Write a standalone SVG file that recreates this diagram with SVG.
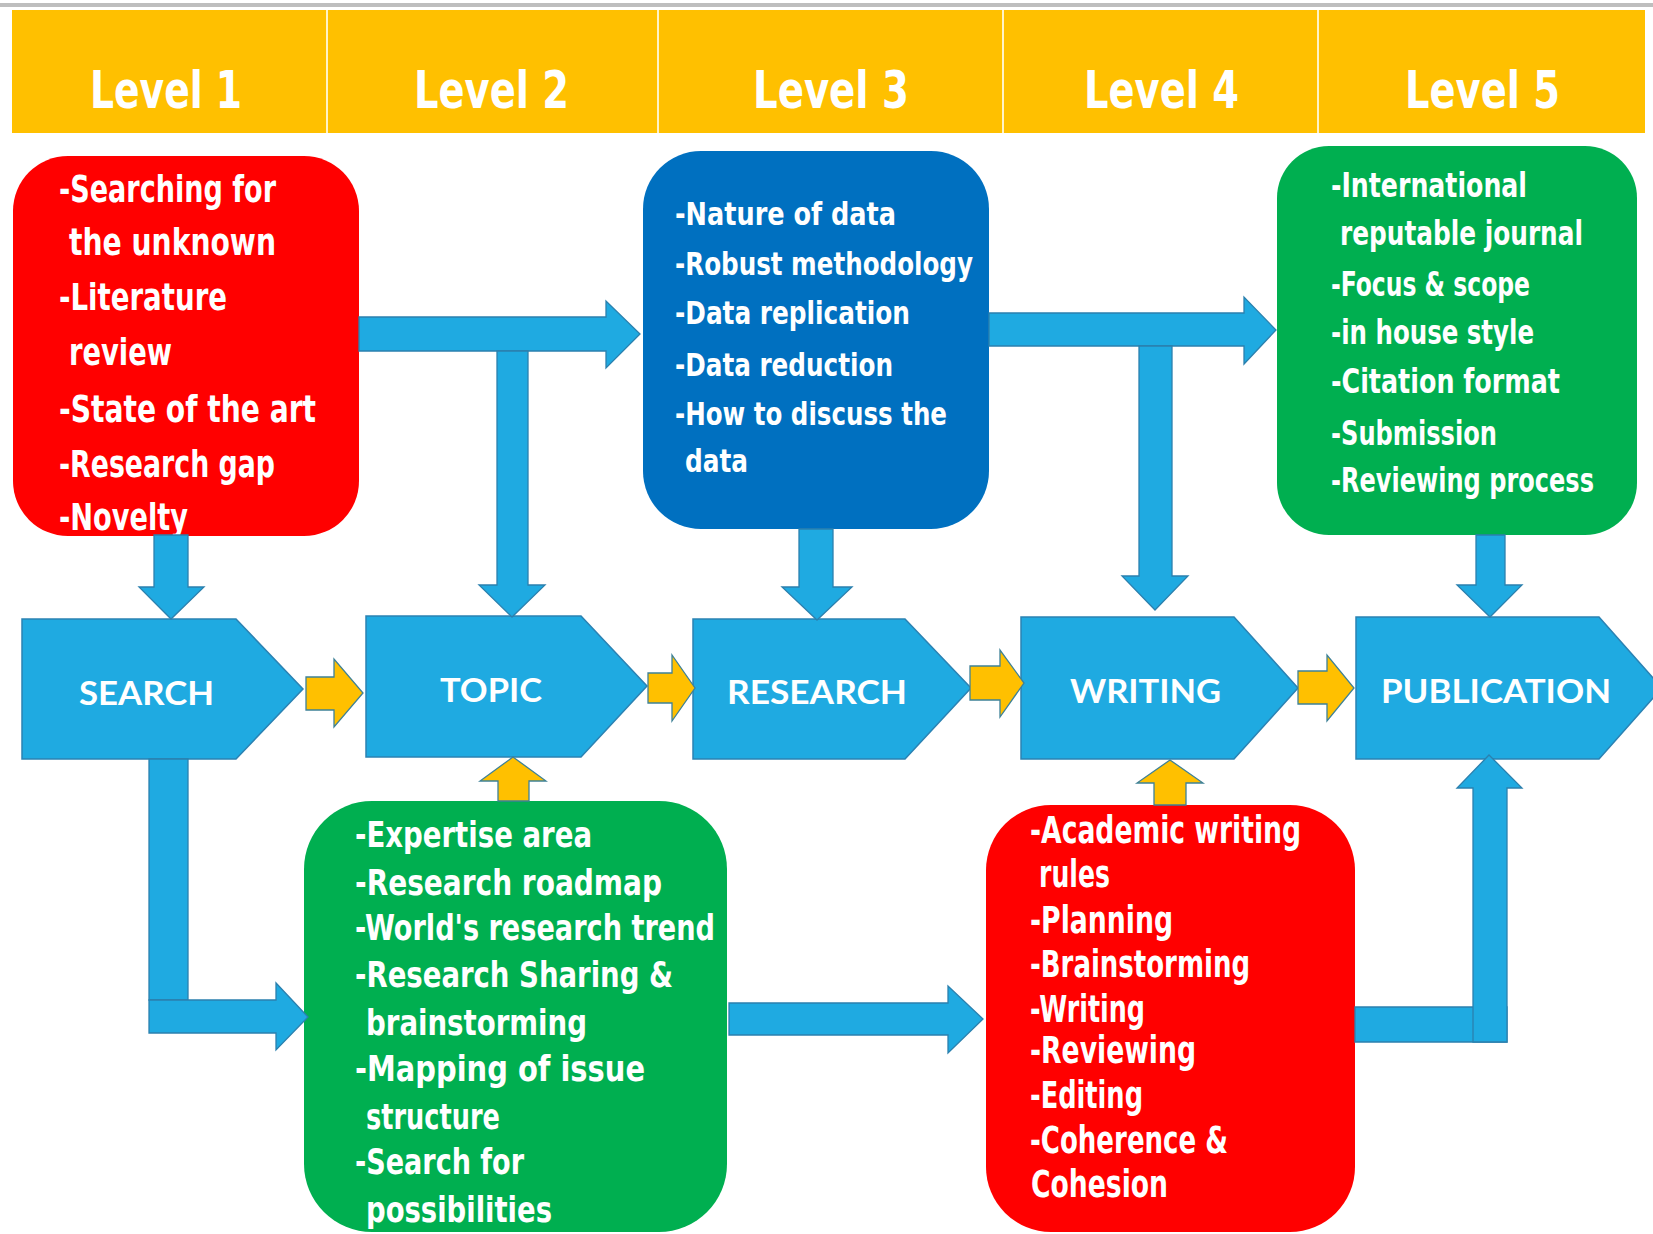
<svg xmlns="http://www.w3.org/2000/svg" width="1653" height="1234" viewBox="0 0 1653 1234">
<style>
.bg{fill:#ffffff}
.hdr{fill:#FFC000}
.sep{fill:#FFF3C8}
.lvl{font-family:"Liberation Sans Narrow","DejaVu Sans Condensed","Liberation Sans",sans-serif;font-weight:bold;font-size:52px;fill:#ffffff}
.box{font-family:"Liberation Sans Narrow","DejaVu Sans Condensed","Liberation Sans",sans-serif;font-weight:bold;fill:#ffffff}
.red{fill:#FF0000}
.green{fill:#00AF50}
.dblue{fill:#0070C0}
.proc{fill:#1FAAE1;stroke:#2B82B3;stroke-width:1.5}
.plabel{font-family:"Lato","Open Sans","DejaVu Sans",sans-serif;font-weight:bold;font-size:33px;fill:#ffffff}
.arr{fill:#1FAAE1;stroke:#2B80AE;stroke-width:1.3;stroke-linejoin:miter}
.yarr{fill:#FFC000;stroke:#3E8197;stroke-width:1.3}
</style>
<rect class="bg" x="0" y="0" width="1653" height="1234"/>
<rect x="0" y="3" width="1653" height="4" fill="#BEBEBE"/>

<g id="header">
  <rect class="hdr" x="12" y="10" width="1633" height="123"/>
  <rect class="sep" x="326" y="10" width="2" height="123"/>
  <rect class="sep" x="657" y="10" width="2" height="123"/>
  <rect class="sep" x="1002" y="10" width="2" height="123"/>
  <rect class="sep" x="1317" y="10" width="2" height="123"/>
  <text class="lvl" x="90" y="108" textLength="152" lengthAdjust="spacingAndGlyphs">Level 1</text>
  <text class="lvl" x="414" y="108" textLength="155" lengthAdjust="spacingAndGlyphs">Level 2</text>
  <text class="lvl" x="753" y="108" textLength="156" lengthAdjust="spacingAndGlyphs">Level 3</text>
  <text class="lvl" x="1084" y="108" textLength="155" lengthAdjust="spacingAndGlyphs">Level 4</text>
  <text class="lvl" x="1405" y="108" textLength="155" lengthAdjust="spacingAndGlyphs">Level 5</text>
</g>

<g id="search-topics">
  <rect class="red" x="13" y="156" width="346" height="380" rx="55"/>
  <g class="box" font-size="38">
    <text x="59" y="202" textLength="217" lengthAdjust="spacingAndGlyphs">-Searching for</text>
    <text x="69" y="255" textLength="207" lengthAdjust="spacingAndGlyphs">the unknown</text>
    <text x="59" y="310" textLength="168" lengthAdjust="spacingAndGlyphs">-Literature</text>
    <text x="69" y="365" textLength="103" lengthAdjust="spacingAndGlyphs">review</text>
    <text x="59" y="422" textLength="257" lengthAdjust="spacingAndGlyphs">-State of the art</text>
    <text x="59" y="477" textLength="216" lengthAdjust="spacingAndGlyphs">-Research gap</text>
    <text x="59" y="530" textLength="129" lengthAdjust="spacingAndGlyphs">-Novelty</text>
  </g>
</g>

<g id="research-topics">
  <rect class="dblue" x="643" y="151" width="346" height="378" rx="58"/>
  <g class="box" font-size="32">
    <text x="675" y="225" textLength="221" lengthAdjust="spacingAndGlyphs">-Nature of data</text>
    <text x="675" y="275" textLength="298" lengthAdjust="spacingAndGlyphs">-Robust methodology</text>
    <text x="675" y="324" textLength="235" lengthAdjust="spacingAndGlyphs">-Data replication</text>
    <text x="675" y="376" textLength="218" lengthAdjust="spacingAndGlyphs">-Data reduction</text>
    <text x="675" y="425" textLength="272" lengthAdjust="spacingAndGlyphs">-How to discuss the</text>
    <text x="685" y="472" textLength="63" lengthAdjust="spacingAndGlyphs">data</text>
  </g>
</g>

<g id="publication-topics">
  <rect class="green" x="1277" y="146" width="360" height="389" rx="52"/>
  <g class="box" font-size="33">
    <text x="1331" y="197" textLength="196" lengthAdjust="spacingAndGlyphs">-International</text>
    <text x="1340" y="245" textLength="243" lengthAdjust="spacingAndGlyphs">reputable journal</text>
    <text x="1331" y="296" textLength="199" lengthAdjust="spacingAndGlyphs">-Focus &amp; scope</text>
    <text x="1331" y="344" textLength="203" lengthAdjust="spacingAndGlyphs">-in house style</text>
    <text x="1331" y="393" textLength="229" lengthAdjust="spacingAndGlyphs">-Citation format</text>
    <text x="1331" y="445" textLength="166" lengthAdjust="spacingAndGlyphs">-Submission</text>
    <text x="1331" y="492" textLength="263" lengthAdjust="spacingAndGlyphs">-Reviewing process</text>
  </g>
</g>

<g id="topic-topics">
  <rect class="green" x="304" y="801" width="423" height="431" rx="68"/>
  <g class="box" font-size="36">
    <text x="355" y="847" textLength="237" lengthAdjust="spacingAndGlyphs">-Expertise area</text>
    <text x="355" y="895" textLength="307" lengthAdjust="spacingAndGlyphs">-Research roadmap</text>
    <text x="355" y="940" textLength="360" lengthAdjust="spacingAndGlyphs">-World's research trend</text>
    <text x="355" y="987" textLength="318" lengthAdjust="spacingAndGlyphs">-Research Sharing &amp;</text>
    <text x="366" y="1035" textLength="221" lengthAdjust="spacingAndGlyphs">brainstorming</text>
    <text x="355" y="1081" textLength="290" lengthAdjust="spacingAndGlyphs">-Mapping of issue</text>
    <text x="366" y="1129" textLength="134" lengthAdjust="spacingAndGlyphs">structure</text>
    <text x="355" y="1174" textLength="169" lengthAdjust="spacingAndGlyphs">-Search for</text>
    <text x="366" y="1222" textLength="186" lengthAdjust="spacingAndGlyphs">possibilities</text>
  </g>
</g>

<g id="writing-topics">
  <rect class="red" x="986" y="805" width="369" height="427" rx="65"/>
  <g class="box" font-size="37">
    <text x="1030" y="843" textLength="271" lengthAdjust="spacingAndGlyphs">-Academic writing</text>
    <text x="1039" y="887" textLength="71" lengthAdjust="spacingAndGlyphs">rules</text>
    <text x="1030" y="933" textLength="143" lengthAdjust="spacingAndGlyphs">-Planning</text>
    <text x="1030" y="977" textLength="220" lengthAdjust="spacingAndGlyphs">-Brainstorming</text>
    <text x="1030" y="1022" textLength="115" lengthAdjust="spacingAndGlyphs">-Writing</text>
    <text x="1030" y="1063" textLength="166" lengthAdjust="spacingAndGlyphs">-Reviewing</text>
    <text x="1030" y="1108" textLength="113" lengthAdjust="spacingAndGlyphs">-Editing</text>
    <text x="1030" y="1153" textLength="198" lengthAdjust="spacingAndGlyphs">-Coherence &amp;</text>
    <text x="1031" y="1197" textLength="137" lengthAdjust="spacingAndGlyphs">Cohesion</text>
  </g>
</g>

<g id="search">
  <polygon class="proc" points="22,619 236,619 303,689 236,759 22,759"/>
  <text class="plabel" x="79" y="705" textLength="135" lengthAdjust="spacingAndGlyphs">SEARCH</text>
</g>
<g id="topic">
  <polygon class="proc" points="366,616 581,616 647,686 581,757 366,757"/>
  <text class="plabel" x="440" y="702" textLength="102" lengthAdjust="spacingAndGlyphs">TOPIC</text>
</g>
<g id="research">
  <polygon class="proc" points="693,619 905,619 971,688 905,759 693,759"/>
  <text class="plabel" x="727" y="704" textLength="180" lengthAdjust="spacingAndGlyphs">RESEARCH</text>
</g>
<g id="writing">
  <polygon class="proc" points="1021,617 1234,617 1298,688 1234,759 1021,759"/>
  <text class="plabel" x="1070" y="703" textLength="151" lengthAdjust="spacingAndGlyphs">WRITING</text>
</g>
<g id="publication">
  <polygon class="proc" points="1356,617 1599,617 1662,688 1599,759 1356,759"/>
  <text class="plabel" x="1381" y="703" textLength="230" lengthAdjust="spacingAndGlyphs">PUBLICATION</text>
</g>

<g id="connectors">
  <polygon class="arr" points="359,317 606,317 606,301 640,334 606,368 606,351 359,351"/>
  <polygon class="arr" points="497,351 528,351 528,585 545,585 512,617 479,585 497,585"/>
  <polygon class="arr" points="989,313 1244,313 1244,297 1276,330 1244,364 1244,346 989,346"/>
  <polygon class="arr" points="1139,346 1172,346 1172,576 1188,576 1155,610 1122,576 1139,576"/>
  <polygon class="arr" points="799,529 833,529 833,587 852,587 817,620 782,587 799,587"/>
  <polygon class="arr" points="154,535 188,535 188,587 204,587 171,619 139,587 154,587"/>
  <polygon class="arr" points="1476,535 1505,535 1505,585 1522,585 1490,617 1457,585 1476,585"/>
  <polygon class="arr" points="149,759 188,759 188,1000 149,1000"/>
  <polygon class="arr" points="149,1000 276,1000 276,983 308,1017 276,1050 276,1033 149,1033"/>
  <polygon class="arr" points="729,1003 948,1003 948,986 983,1019 948,1053 948,1035 729,1035"/>
  <polygon class="arr" points="1355,1007 1507,1007 1507,1042 1355,1042"/>
  <polygon class="arr" points="1473,1042 1473,788 1457,788 1489,755 1522,788 1507,788 1507,1042"/>
  <polygon class="yarr" points="306,677 334,677 334,659 363,693 334,727 334,710 306,710"/>
  <polygon class="yarr" points="648,673 672,673 672,655 695,688 672,721 672,703 648,703"/>
  <polygon class="yarr" points="970,666 1000,666 1000,650 1024,683 1000,717 1000,700 970,700"/>
  <polygon class="yarr" points="1298,671 1327,671 1327,655 1354,688 1327,721 1327,704 1298,704"/>
  <polygon class="yarr" points="498,801 498,781 480,781 513,757 546,781 529,781 529,801"/>
  <polygon class="yarr" points="1154,805 1154,783 1137,783 1170,760 1203,783 1186,783 1186,805"/>
</g>
</svg>
